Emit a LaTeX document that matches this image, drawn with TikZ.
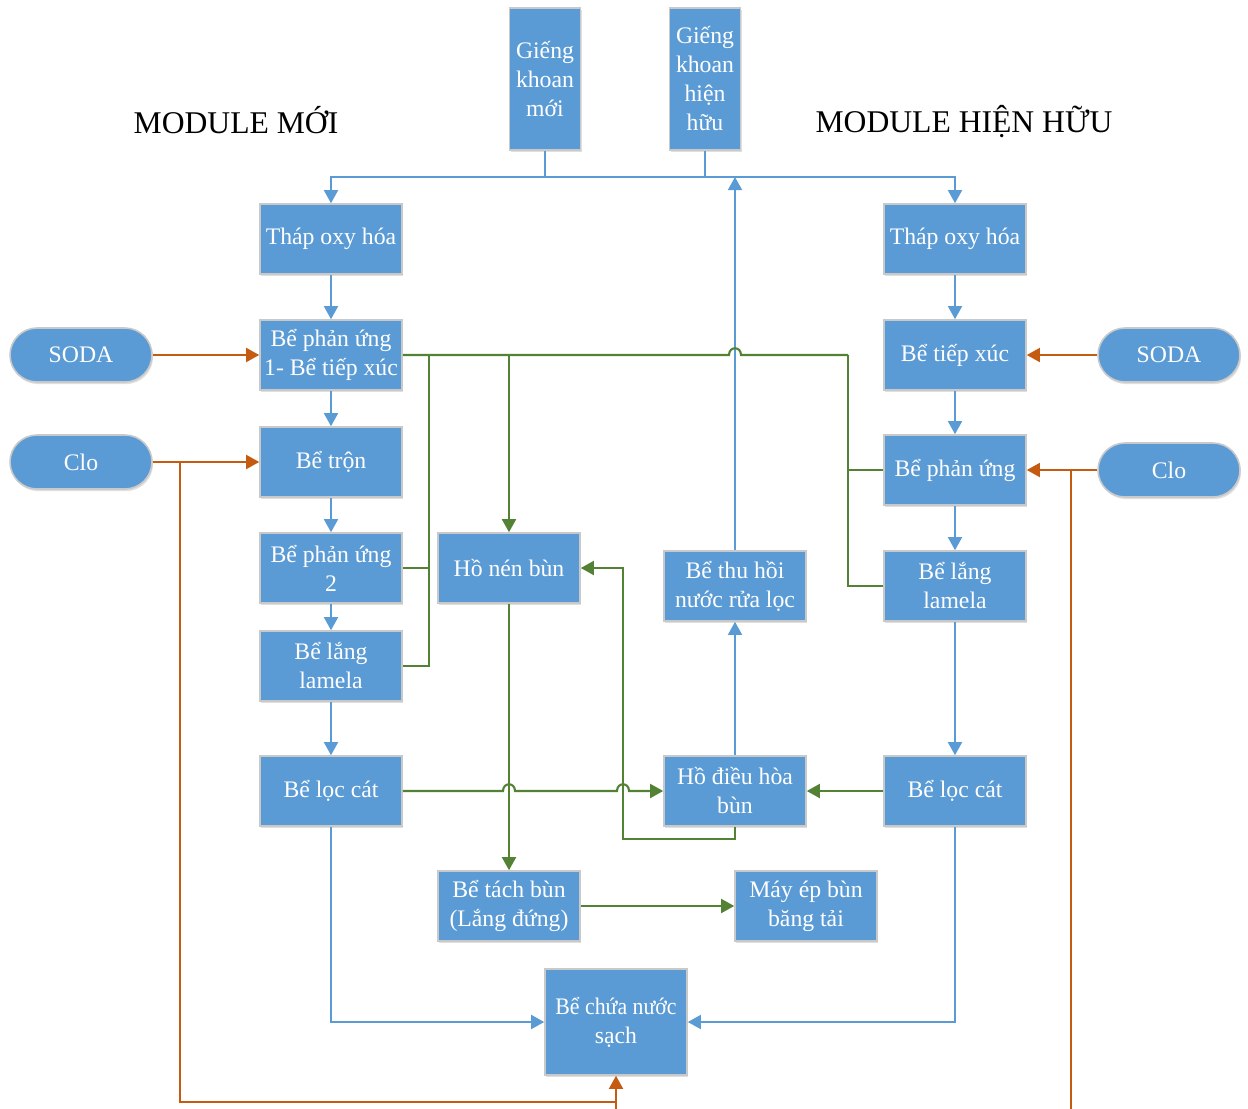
\documentclass[tikz,border=0pt]{standalone}
\usepackage{fontspec}
\setmainfont{Liberation Serif}
\usetikzlibrary{arrows.meta,shadows}
\definecolor{boxblue}{HTML}{5B9BD5}
\definecolor{boxedge}{HTML}{C9C9C9}
\definecolor{lineblue}{HTML}{5B9BD5}
\definecolor{mudgreen}{HTML}{548235}
\definecolor{chemorange}{HTML}{C55A11}
\tikzset{
  box/.style={rectangle, fill=boxblue, draw=boxedge, line width=0.9pt,
    minimum width=2.84cm, minimum height=1.4cm, inner sep=1pt,
    text=white, align=center, font=\fontsize{13.5}{16.5}\selectfont,
    drop shadow={shadow xshift=0.6pt, shadow yshift=-1.2pt, opacity=0.25}},
  well/.style={box, minimum width=1.42cm, minimum height=2.84cm},
  pill/.style={box, rounded corners=0.54cm, minimum height=1.08cm},
  water/.style={draw=lineblue, line width=1.1pt},
  sludge/.style={draw=mudgreen, line width=1.2pt},
  chem/.style={draw=chemorange, line width=1.1pt},
  title/.style={font=\fontsize{18}{20}\selectfont}
}
\begin{document}
\begin{tikzpicture}[x=0.02cm, y=-0.02cm, >={Triangle[length=7.5pt,width=8pt]}]
	\useasboundingbox (0,0) rectangle (1248,1109);
	\node[title] (tnew) at (236,120) {MODULE MỚI};
	\node[title] (told) at (964,122) {MODULE HIỆN HỮU};
	\node[well] (gm) at (545,79) {Giếng\\khoan\\mới};
	\node[well] (gh) at (705,79) {Giếng\\khoan\\hiện\\hữu};
	% module moi
	\node[box] (ox1) at (331,239) {Tháp oxy hóa};
	\node[box] (pu1) at (331,355) {Bể phản ứng\\1- Bể tiếp xúc};
	\node[box] (tron) at (331,462) {Bể trộn};
	\node[box] (pu2) at (331,568) {Bể phản ứng\\2};
	\node[box] (lang1) at (331,666) {Bể lắng\\lamela};
	\node[box] (loc1) at (331,791) {Bể lọc cát};
	\node[pill] (soda1) at (81,355) {SODA};
	\node[pill] (clo1) at (81,462) {Clo};
	% module hien huu
	\node[box] (ox2) at (955,239) {Tháp oxy hóa};
	\node[box] (tx) at (955,355) {Bể tiếp xúc};
	\node[box] (pu3) at (955,470) {Bể phản ứng};
	\node[box] (lang2) at (955,586) {Bể lắng\\lamela};
	\node[box] (loc2) at (955,791) {Bể lọc cát};
	\node[pill] (soda2) at (1169,355) {SODA};
	\node[pill] (clo2) at (1169,470) {Clo};
	% bun va nuoc
	\node[box] (nen) at (509,568) {Hồ nén bùn};
	\node[box] (th) at (735,586) {Bể thu hồi\\nước rửa lọc};
	\node[box] (dh) at (735,791) {Hồ điều hòa\\bùn};
	\node[box] (tach) at (509,906) {Bể tách bùn\\(Lắng đứng)};
	\node[box] (ep) at (806,906) {Máy ép bùn\\băng tải};
	\node[box, minimum height=2.12cm] (chua) at (616,1022) {\scalebox{0.92}[1]{Bể chứa nước}\\sạch};
	\coordinate (bus) at (0,177);
	\coordinate (g1) at (429,355);
	\coordinate (g2) at (509,355);
	\coordinate (g3) at (848,355);
	\coordinate (r1) at (623,839);
	\coordinate (r2) at (623,568);
	\coordinate (cl) at (180,462);
	\coordinate (cj) at (616,1102);
	\coordinate (ce) at (616,1109);
	\coordinate (cr) at (1071,470);
	\coordinate (cre) at (1071,1109);
	% nuoc
	\draw[water,->] (gm.south) -- (gm.south |- bus) -| (ox1.north);
	\draw[water,->] (gh.south) -- (gh.south |- bus) -| (ox2.north);
	\draw[water] (gm.south |- bus) -- (gh.south |- bus);
	\draw[water,->] (th.north) -- (th.north |- bus);
	\draw[water,->] (ox1) -- (pu1);
	\draw[water,->] (pu1) -- (tron);
	\draw[water,->] (tron) -- (pu2);
	\draw[water,->] (pu2) -- (lang1);
	\draw[water,->] (lang1) -- (loc1);
	\draw[water,->] (ox2) -- (tx);
	\draw[water,->] (tx) -- (pu3);
	\draw[water,->] (pu3) -- (lang2);
	\draw[water,->] (lang2) -- (loc2);
	\draw[water,->] (loc1.south) |- (chua.west);
	\draw[water,->] (loc2.south) |- (chua.east);
	\draw[water,->] (dh.north) -- (th.south);
	% hoa chat
	\draw[chem,->] (soda1) -- (pu1);
	\draw[chem,->] (clo1) -- (tron);
	\draw[chem,->] (soda2) -- (tx);
	\draw[chem,->] (clo2) -- (pu3);
	\draw[chem] (cl) |- (cj);
	\draw[chem,->] (ce) -- (chua.south);
	\draw[chem] (cr) -- (cre);
	% bun
	\draw[sludge] (pu1.east) -- (729,355) .. controls (729,346) and (741,346) .. (741,355) -- (g3);
	\draw[sludge] (pu2.east) -| (g1);
	\draw[sludge] (lang1.east) -| (g1);
	\draw[sludge,->] (g2) -- (nen.north);
	\draw[sludge] (pu3.west) -| (g3);
	\draw[sludge] (lang2.west) -| (g3);
	\draw[sludge,->] (nen.south) -- (tach.north);
	\draw[sludge,->] (loc1.east) -- (503,791) .. controls (503,782) and (515,782) .. (515,791) -- (617,791) .. controls (617,782) and (629,782) .. (629,791) -- (dh.west);
	\draw[sludge,->] (dh.south) |- (r1) -- (r2) -- (nen.east);
	\draw[sludge,->] (loc2) -- (dh);
	\draw[sludge,->] (tach) -- (ep);
\end{tikzpicture}
\end{document}
